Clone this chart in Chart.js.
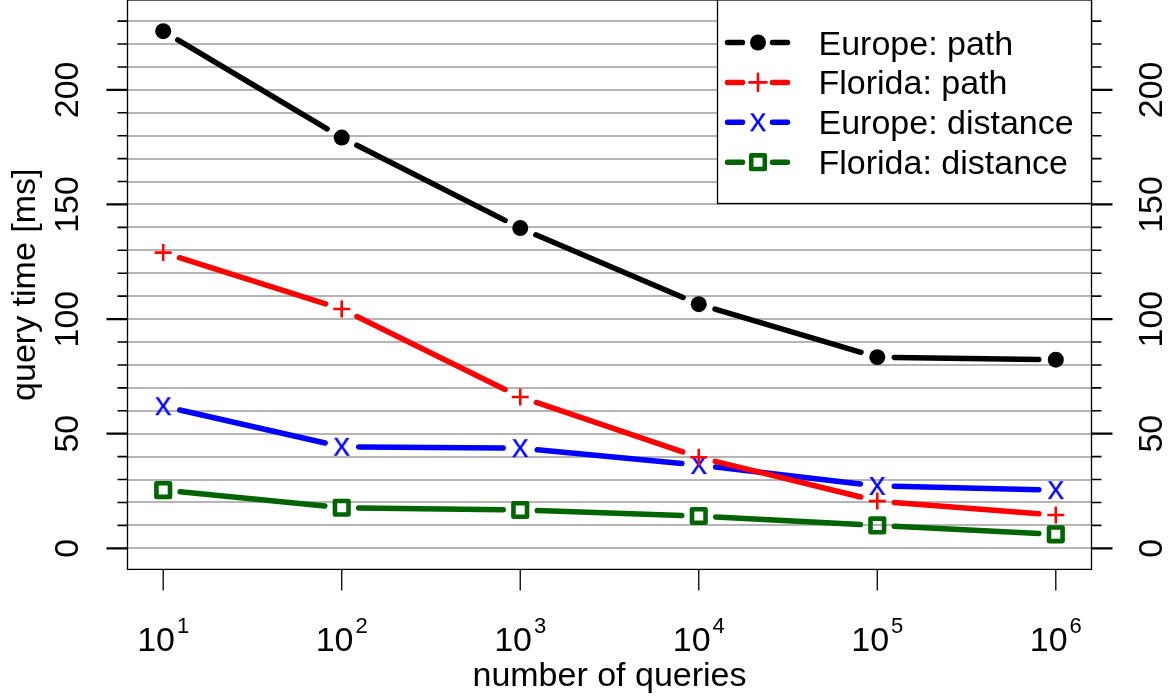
<!DOCTYPE html>
<html>
<head>
<meta charset="utf-8">
<script src="https://cdn.jsdelivr.net/npm/chart.js@4.4.1/dist/chart.umd.min.js"></script>
<style>
  html, body { margin: 0; padding: 0; background: #ffffff; overflow: hidden; }
  canvas { display: block; }
</style>
</head>
<body>
<canvas id="chart" width="1174" height="696"></canvas>
<script>
// ---- data -------------------------------------------------------------
const queries = [1e1, 1e2, 1e3, 1e4, 1e5, 1e6];
const europePath = [225.6, 179.2, 139.7, 106.5, 83.4, 82.3];
const floridaPath = [129.0, 104.4, 66.0, 39.7, 20.6, 14.5];
const europeDistance = [62.0, 44.3, 43.7, 36.3, 27.2, 25.4];
const floridaDistance = [25.4, 17.7, 16.7, 14.1, 10.0, 6.1];

const seriesLabels = ['Europe: path', 'Florida: path', 'Europe: distance', 'Florida: distance'];
const seriesColors = ['#000000', '#ff0000', '#0000ff', '#006400'];

const yMajorTicks = [0, 50, 100, 150, 200];
const yMinorTicks = [0, 10, 20, 30, 40, 50, 60, 70, 80, 90, 100, 110, 120, 130, 140, 150, 160, 170, 180, 190, 200, 210, 220, 230];
const xTickValues = [1e1, 1e2, 1e3, 1e4, 1e5, 1e6];
const xTickExponents = ['1', '2', '3', '4', '5', '6'];
const xTitle = 'number of queries';
const yTitle = 'query time [ms]';

// ---- appearance -------------------------------------------------------
const FONT = '"Liberation Sans", Arial, Helvetica, sans-serif';
const FS = 34;           // main text size
const W = 1174, H = 696;
const AREA = { left: 127.5, right: 1091.5, top: 0, bottom: 569.4 };
const LINE_GAP = 17;     // distance kept free around each marker
const LINE_WIDTH = 5.5;

// the "x" marker is a text glyph
function makeGlyph(ch, color, size) {
  const c = document.createElement('canvas');
  c.width = 30; c.height = 30;
  const g = c.getContext('2d');
  g.fillStyle = color;
  g.font = size + 'px ' + FONT;
  g.textAlign = 'center';
  g.textBaseline = 'alphabetic';
  g.fillText(ch, 15, 15 + size * 0.519 / 2);
  return c;
}
const xGlyph = makeGlyph('x', seriesColors[2], FS);

const toPoints = values => queries.map((q, i) => ({ x: q, y: values[i] }));

const datasets = [
  { label: seriesLabels[0], data: toPoints(europePath), borderColor: seriesColors[0],
    pointStyle: 'circle', pointRadius: 8, pointBackgroundColor: seriesColors[0], pointBorderWidth: 0 },
  { label: seriesLabels[1], data: toPoints(floridaPath), borderColor: seriesColors[1],
    pointStyle: 'cross', pointRadius: 8.5, pointBorderColor: seriesColors[1], pointBorderWidth: 2.6,
    pointBackgroundColor: 'rgba(0,0,0,0)' },
  { label: seriesLabels[2], data: toPoints(europeDistance), borderColor: seriesColors[2],
    pointStyle: xGlyph, pointRadius: 9, pointBorderWidth: 0 },
  { label: seriesLabels[3], data: toPoints(floridaDistance), borderColor: seriesColors[3],
    pointStyle: 'rect', pointRadius: 9.6, pointBorderColor: seriesColors[3], pointBorderWidth: 4.6,
    pointBackgroundColor: 'rgba(0,0,0,0)' }
];
datasets.forEach(d => { d.showLine = false; d.pointHoverRadius = d.pointRadius; });

function markerOptions(ds) {
  return { pointStyle: ds.pointStyle, radius: ds.pointRadius, rotation: 0, borderWidth: ds.pointBorderWidth };
}

function drawMarker(ctx, ds, x, y) {
  ctx.save();
  ctx.fillStyle = ds.pointBackgroundColor || ds.borderColor;
  ctx.strokeStyle = ds.pointBorderColor || ds.borderColor;
  ctx.lineWidth = ds.pointBorderWidth || 0;
  ctx.lineJoin = 'round';
  Chart.helpers.drawPoint(ctx, markerOptions(ds), x, y);
  ctx.restore();
}

// segments between markers, shortened at both ends
function gappedSegment(ctx, ax, ay, bx, by) {
  const dx = bx - ax, dy = by - ay, len = Math.hypot(dx, dy);
  if (len <= 2 * LINE_GAP) return;
  const ux = dx / len, uy = dy / len;
  ctx.beginPath();
  ctx.moveTo(ax + ux * LINE_GAP, ay + uy * LINE_GAP);
  ctx.lineTo(bx - ux * LINE_GAP, by - uy * LINE_GAP);
  ctx.stroke();
}

const framePlugin = {
  id: 'frame',
  beforeDatasetDraw(chart, args) {
    const ds = chart.data.datasets[args.index];
    const pts = args.meta.data;
    const ctx = chart.ctx;
    ctx.save();
    ctx.strokeStyle = ds.borderColor;
    ctx.lineWidth = LINE_WIDTH;
    ctx.lineCap = 'round';
    for (let i = 0; i < pts.length - 1; i++) {
      gappedSegment(ctx, pts[i].x, pts[i].y, pts[i + 1].x, pts[i + 1].y);
    }
    ctx.restore();
    ctx.lineJoin = 'round';
  },
  afterDraw(chart) {
    const ctx = chart.ctx;
    const area = chart.chartArea;
    const xs = chart.scales.x, ys = chart.scales.y;
    ctx.save();
    ctx.lineJoin = 'miter';

    // plot frame
    ctx.strokeStyle = '#000';
    ctx.lineWidth = 1.3;
    ctx.strokeRect(area.left, area.top, area.right - area.left, area.bottom - area.top);

    // y tick marks on both sides
    yMinorTicks.forEach(v => {
      const py = ys.getPixelForValue(v);
      const major = yMajorTicks.includes(v);
      ctx.lineWidth = major ? 2.2 : 1.6;
      const len = major ? 21 : 10;
      ctx.beginPath();
      ctx.moveTo(area.left - len, py); ctx.lineTo(area.left, py);
      ctx.moveTo(area.right, py); ctx.lineTo(area.right + len, py);
      ctx.stroke();
    });

    // x tick marks
    ctx.lineWidth = 1.3;
    xTickValues.forEach(v => {
      const px = xs.getPixelForValue(v);
      ctx.beginPath();
      ctx.moveTo(px, area.bottom); ctx.lineTo(px, area.bottom + 21);
      ctx.stroke();
    });

    ctx.fillStyle = '#000';
    // y tick labels, parallel to the axis
    ctx.font = FS + 'px ' + FONT;
    ctx.textAlign = 'center';
    ctx.textBaseline = 'alphabetic';
    yMajorTicks.forEach(v => {
      const py = ys.getPixelForValue(v);
      [78, 1162].forEach(bx => {
        ctx.save();
        ctx.translate(bx, py);
        ctx.rotate(-Math.PI / 2);
        ctx.fillText(String(v), 0, 0);
        ctx.restore();
      });
    });

    // x tick labels: 10 with a raised exponent
    xTickValues.forEach((v, i) => {
      const px = xs.getPixelForValue(v);
      ctx.font = FS + 'px ' + FONT;
      const wBase = ctx.measureText('10').width;
      ctx.font = '22px ' + FONT;
      const wSup = ctx.measureText(xTickExponents[i]).width;
      const gap = 2;
      const x0 = px - (wBase + gap + wSup) / 2;
      ctx.textAlign = 'left';
      ctx.font = FS + 'px ' + FONT;
      ctx.fillText('10', x0, 651);
      ctx.font = '22px ' + FONT;
      ctx.fillText(xTickExponents[i], x0 + wBase + gap, 633);
    });

    // axis titles
    ctx.font = FS + 'px ' + FONT;
    ctx.textAlign = 'center';
    ctx.fillText(xTitle, (area.left + area.right) / 2, 686);
    ctx.save();
    ctx.translate(34.5, (area.top + area.bottom) / 2);
    ctx.rotate(-Math.PI / 2);
    ctx.fillText(yTitle, 0, 0);
    ctx.restore();

    // legend
    const lg = { left: 717.5, top: 0, right: area.right, bottom: 203.5 };
    ctx.fillStyle = '#fff';
    ctx.fillRect(lg.left, lg.top, lg.right - lg.left, lg.bottom - lg.top);
    ctx.strokeStyle = '#000';
    ctx.lineWidth = 1.3;
    ctx.strokeRect(lg.left, lg.top, lg.right - lg.left, lg.bottom - lg.top);
    chart.data.datasets.forEach((ds, i) => {
      const ry = 42.5 + 39.9 * i;
      ctx.strokeStyle = ds.borderColor;
      ctx.lineWidth = LINE_WIDTH;
      ctx.lineCap = 'round';
      ctx.beginPath();
      ctx.moveTo(727.5, ry); ctx.lineTo(742.5, ry);
      ctx.moveTo(772.5, ry); ctx.lineTo(787.5, ry);
      ctx.stroke();
      drawMarker(ctx, ds, 758, ry);
      ctx.fillStyle = '#000';
      ctx.font = FS + 'px ' + FONT;
      ctx.textAlign = 'left';
      ctx.fillText(ds.label, 818.5, ry + 12);
    });

    ctx.restore();
  }
};

new Chart(document.getElementById('chart'), {
  type: 'line',
  data: { datasets },
  plugins: [framePlugin],
  options: {
    responsive: false,
    devicePixelRatio: 1,
    animation: false,
    events: [],
    layout: { padding: 0, autoPadding: false },
    plugins: { legend: { display: false }, tooltip: { enabled: false } },
    scales: {
      x: {
        type: 'logarithmic', position: 'bottom',
        min: Math.pow(10, 0.8), max: Math.pow(10, 6.2),
        ticks: { display: false }, grid: { display: false }, border: { display: false },
        afterFit: s => { s.height = H - AREA.bottom; }
      },
      y: {
        type: 'linear', position: 'left',
        min: -9.2, max: 239.2,
        ticks: { display: false, stepSize: 10, includeBounds: false, autoSkip: false },
        grid: { color: '#b5b5b5', lineWidth: 2, drawTicks: false },
        border: { display: false },
        afterFit: s => { s.width = AREA.left; }
      },
      yRight: {
        type: 'linear', position: 'right',
        min: -9.2, max: 239.2,
        ticks: { display: false }, grid: { display: false }, border: { display: false },
        afterFit: s => { s.width = W - AREA.right; }
      }
    }
  }
});
</script>
</body>
</html>
